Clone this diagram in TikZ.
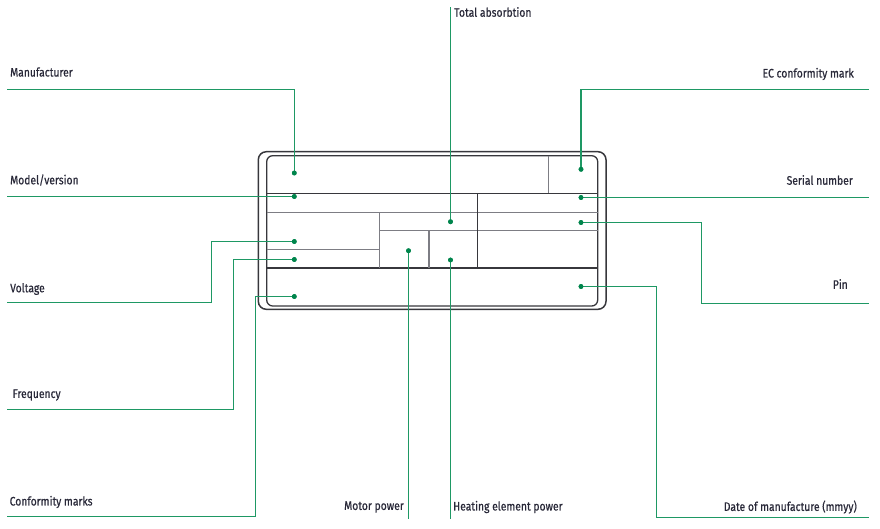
\documentclass[tikz,border=0pt]{standalone}
\usepackage{fontspec}
\setmainfont{Fira Sans}[FakeStretch=0.84,FakeBold=0.6]
\begin{document}
\begin{tikzpicture}[x=1pt,y=-1pt,
  conn/.style={draw=linegreen,line width=1.5pt},
  dot/.style={circle,fill=dotgreen,inner sep=0pt,minimum size=4.8pt},
  lbl/.style={inner sep=0pt,text=txtcol,font=\fontsize{12.3}{14}\selectfont},
  plate/.style={draw=platedark,line width=1.5pt},
  pdark/.style={draw=platedark,line width=1.3pt},
  plight/.style={draw=platelight,line width=1.4pt}]
\definecolor{linegreen}{RGB}{30,152,100}
\definecolor{dotgreen}{RGB}{0,133,76}
\definecolor{txtcol}{RGB}{40,40,56}
\definecolor{platedark}{RGB}{55,55,60}
\definecolor{platelight}{RGB}{125,125,132}
\useasboundingbox (0,0) rectangle (880,528);
% plate
\draw[plate,rounded corners=8pt] (258.3,151.7) rectangle (606,309.3);
\draw[pdark,rounded corners=6pt] (266.7,155.7) rectangle (597.7,306);
\draw[pdark] (266.7,193.3) -- (597.7,193.3);
\draw[pdark] (266.7,268) -- (597.7,268);
\draw[plight] (266.7,212.3) -- (597.7,212.3);
\draw[plight] (379.7,230.7) -- (597.7,230.7);
\draw[plight] (266.7,249.3) -- (379.7,249.3);
\draw[plight] (548.7,155.7) -- (548.7,193.3);
\draw[pdark] (477.3,193.3) -- (477.3,268);
\draw[plight] (379.7,212.3) -- (379.7,268);
\draw[plight] (429,230.7) -- (429,268);
% dots
\node[dot] (dman) at (294.3,173) {};
\node[dot] (dmod) at (294.3,196.5) {};
\node[dot] (dvolt) at (294.3,241.5) {};
\node[dot] (dfreq) at (294.3,259.5) {};
\node[dot] (dconf) at (294.3,296.5) {};
\node[dot] (dec) at (581,169.3) {};
\node[dot] (dser) at (581,197.5) {};
\node[dot] (dpin) at (581,222.5) {};
\node[dot] (ddate) at (581,286.5) {};
\node[dot] (dtot) at (450.5,221.7) {};
\node[dot] (dmot) at (408.5,250.7) {};
\node[dot] (dheat) at (450.5,260) {};
% free ends and corners
\coordinate (eman) at (7,89.5);
\coordinate (emod) at (7,196.5);
\coordinate (cvolt) at (211.5,302.5);
\coordinate (evolt) at (7,302.5);
\coordinate (cfreq) at (233.5,409.5);
\coordinate (efreq) at (7,409.5);
\coordinate (cconf) at (255.5,516.5);
\coordinate (econf) at (7,516.5);
\coordinate (eec) at (869,89.5);
\coordinate (eser) at (869,197.5);
\coordinate (cpin) at (701.5,303.5);
\coordinate (epin) at (869,303.5);
\coordinate (cdate) at (656.5,517.5);
\coordinate (edate) at (869,517.5);
\coordinate (etot) at (450.5,7);
\coordinate (emot) at (408.5,519);
\coordinate (eheat) at (450.5,519);
% connectors
\draw[conn] (dman.center) |- (eman);
\draw[conn] (dmod.center) -- (emod);
\draw[conn] (dvolt.center) -| (cvolt) -- (evolt);
\draw[conn] (dfreq.center) -| (cfreq) -- (efreq);
\draw[conn] (dconf.center) -| (cconf) -- (econf);
\draw[conn] (dec.center) |- (eec);
\draw[conn] (dser.center) -- (eser);
\draw[conn] (dpin.center) -| (cpin) -- (epin);
\draw[conn] (ddate.center) -| (cdate) -- (edate);
\draw[conn] (dtot.center) -- (etot);
\draw[conn] (dmot.center) -- (emot);
\draw[conn] (dheat.center) -- (eheat);
% redraw dots on top
\foreach \d in {dman,dmod,dvolt,dfreq,dconf,dec,dser,dpin,ddate,dtot,dmot,dheat}
  \fill[dotgreen] (\d.center) circle (2.4pt);
% labels
\node[lbl,anchor=west] (lman) at (10,72) {Manufacturer};
\node[lbl,anchor=west] (lmod) at (10,180) {Model/version};
\node[lbl,anchor=west] (lvolt) at (10,289) {Voltage};
\node[lbl,anchor=west] (lfreq) at (12.5,395) {Frequency};
\node[lbl,anchor=west] (lconf) at (9.5,502) {Conformity marks};
\node[lbl,anchor=east] (lec) at (854,74) {EC conformity mark};
\node[lbl,anchor=east] (lser) at (853,180) {Serial number};
\node[lbl,anchor=east] (lpin) at (848,284) {Pin};
\node[lbl,anchor=east] (ldate) at (857,507) {Date of manufacture (mmyy)};
\node[lbl,anchor=east] (lmot) at (404,507) {Motor power};
\node[lbl,anchor=west] (lheat) at (453,507) {Heating element power};
\node[lbl,anchor=west] (ltot) at (454,12) {Total absorbtion};
\end{tikzpicture}
\end{document}
